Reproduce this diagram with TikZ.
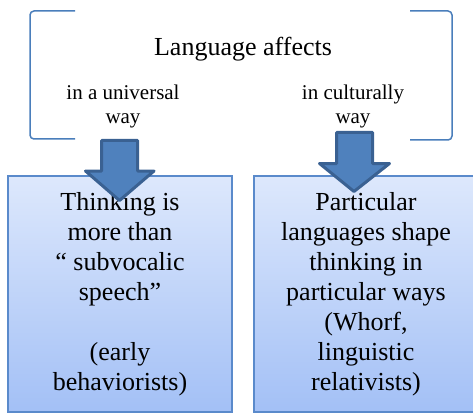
\documentclass[tikz,border=0pt]{standalone}
\usepackage{fontspec}
\setmainfont{Liberation Serif}
\definecolor{brk}{HTML}{4A7EBB}
\definecolor{arrfill}{HTML}{4F81BD}
\definecolor{arrline}{HTML}{3A6192}
\definecolor{boxline}{HTML}{5A8ACB}
\definecolor{boxtop}{HTML}{DDE8FC}
\definecolor{boxbot}{HTML}{A3C0F6}
\tikzset{
  bigtext/.style={font=\fontsize{26}{30}\selectfont, align=center},
  smalltext/.style={font=\fontsize{21}{24}\selectfont, align=center},
  box/.style={draw=boxline, line width=1.3pt, top color=boxtop, bottom color=boxbot,
    minimum width=224pt, minimum height=236pt, inner sep=0pt, bigtext},
  bracket/.style={draw=brk, line width=1.5pt, rounded corners=4pt},
  blockarrow/.style={fill=arrfill, draw=arrline, line width=3pt, line join=round}
}
\begin{document}
\begin{tikzpicture}[x=1pt, y=-1pt]
\useasboundingbox (0,0) rectangle (473,414);
% brackets
\draw[bracket] (75,11) -- (30,11) -- (30,139) -- (75,139);
\draw[bracket] (410,11) -- (452,11) -- (452,140) -- (410,140);
% labels
\node[bigtext] (title) at (243,49) {Language affects};
\node[smalltext] (lu) at (123,106) {in a universal\\way};
\node[smalltext] (lc) at (353,106) {in culturally\\way};
% boxes
\node[box] (b1) at (120,294) {Thinking is\\more than\\“ subvocalic\\speech”\\[30pt](early\\behaviorists)};
\node[box] (b2) at (366,294) {Particular\\languages shape\\thinking in\\particular ways\\(Whorf,\\linguistic\\relativists)};
% arrows
\draw[blockarrow] (101.5,140.5) -- (137.5,140.5) -- (137.5,171) -- (154,171) -- (119.5,200.5) -- (85.5,171) -- (101.5,171) -- cycle;
\draw[blockarrow] (336.5,132.5) -- (372.5,132.5) -- (372.5,163.5) -- (389.5,163.5) -- (354,191.5) -- (319.5,163.5) -- (336.5,163.5) -- cycle;
\end{tikzpicture}
\end{document}
